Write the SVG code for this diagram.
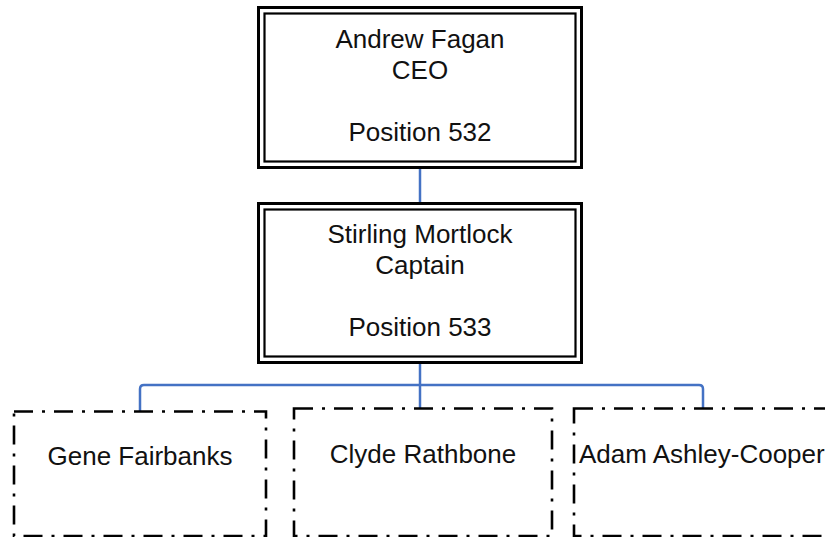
<svg xmlns="http://www.w3.org/2000/svg" width="825" height="537" viewBox="0 0 825 537">
<style>
  .t { font-family: "Liberation Sans", Arial, sans-serif; font-size: 26px; fill: #111; }
  .c { text-anchor: middle; }
  .outer { fill: none; stroke: #000; stroke-width: 3; }
  .inner { fill: none; stroke: #000; stroke-width: 2.2; }
  .dd { fill: #fff; stroke: #000; stroke-width: 2.6; stroke-dasharray: 19 9 3 9; }
  .conn { fill: none; stroke: #4472C4; stroke-width: 2.5; }
</style>
<rect width="825" height="537" fill="#fff"/>
<g id="connectors">
  <path class="conn" d="M420 168 V203"/>
  <path class="conn" d="M420 363 V385"/>
  <path class="conn" d="M140 411 V389 Q140 385 144 385 H699 Q703 385 703 389 V408"/>
  <path class="conn" d="M420 385 V408"/>
</g>
<g id="node-ceo">
  <rect class="outer" x="258.5" y="7.5" width="323" height="160"/>
  <rect class="inner" x="264.5" y="13.5" width="311" height="148"/>
  <text class="t c" x="420" y="48">Andrew Fagan</text>
  <text class="t c" x="420" y="79">CEO</text>
  <text class="t c" x="420" y="141">Position 532</text>
</g>
<g id="node-captain">
  <rect class="outer" x="258.5" y="203.5" width="323" height="159"/>
  <rect class="inner" x="264.5" y="209.5" width="311" height="147"/>
  <text class="t c" x="420" y="243">Stirling Mortlock</text>
  <text class="t c" x="420" y="274">Captain</text>
  <text class="t c" x="420" y="336">Position 533</text>
</g>
<g id="node-gene">
  <rect class="dd" x="14" y="411.5" width="252" height="124.5"/>
  <text class="t c" x="140" y="465">Gene Fairbanks</text>
</g>
<g id="node-clyde">
  <rect class="dd" x="294" y="408.5" width="258" height="127.5"/>
  <text class="t c" x="423" y="463">Clyde Rathbone</text>
</g>
<g id="node-adam">
  <rect class="dd" x="574" y="408.5" width="280" height="127.5"/>
  <text class="t" x="579" y="463">Adam Ashley-Cooper</text>
</g>
</svg>
